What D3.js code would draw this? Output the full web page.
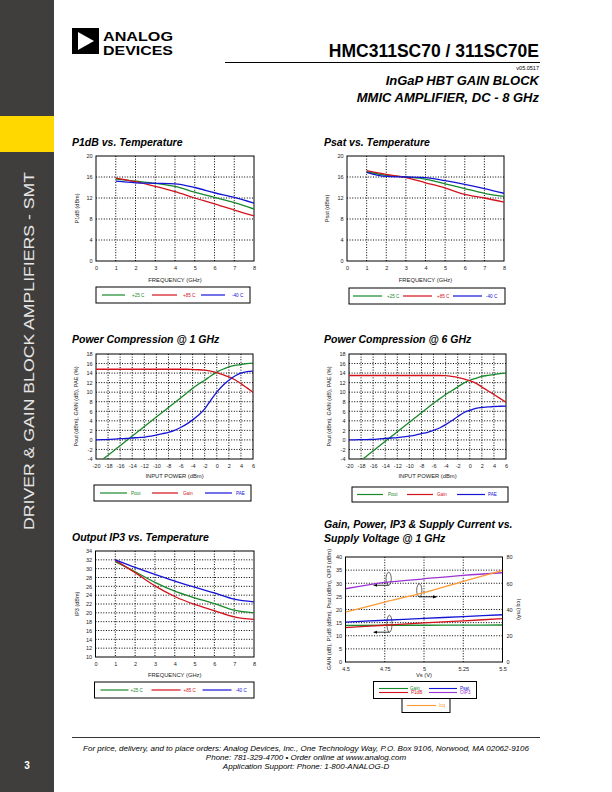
<!DOCTYPE html>
<html>
<head>
<meta charset="utf-8">
<script src="https://cdn.jsdelivr.net/npm/d3@7"></script>
<style>
  body { margin: 0; background: #fff; }
  svg { display: block; font-family: "Liberation Sans", Arial, sans-serif; }
</style>
</head>
<body>
<div id="page"></div>
<script>
// ---- data ----
var freqGHz = [1, 2, 3, 4, 5, 6, 7, 8];
var p1dB_25 = [15.6, 15.2, 14.8, 14.2, 13.1, 12.1, 11.1, 9.9];
var p1dB_85 = [15.8, 15.1, 14.2, 13.2, 12.0, 10.9, 9.7, 8.6];
var p1dB_m40 = [15.2, 14.9, 14.8, 14.7, 14.0, 13.0, 12.1, 11.0];

var psat_25 = [17.0, 16.3, 16.0, 15.6, 14.7, 13.8, 12.9, 12.3];
var psat_85 = [17.2, 16.5, 15.9, 14.9, 13.9, 12.7, 12.0, 11.2];
var psat_m40 = [16.9, 16.1, 16.0, 15.9, 15.3, 14.6, 13.8, 12.9];

var oip3_25 = [31.6, 29.3, 26.9, 24.9, 23.4, 22.1, 20.6, 20.0];
var oip3_85 = [31.9, 29.1, 26.1, 23.7, 21.9, 20.5, 19.1, 18.5];
var oip3_m40 = [32.0, 30.3, 28.7, 27.2, 25.8, 24.5, 23.1, 22.5];

var pinDBm = [-20, -19, -18, -17, -16, -15, -14, -13, -12, -11, -10, -9, -8, -7, -6, -5, -4, -3, -2, -1, 0, 1, 2, 3, 4, 5, 6];
var pout1G = [-5.2, -4.2, -3.2, -2.2, -1.2, -0.2, 0.8, 1.8, 2.8, 3.8, 4.8, 5.8, 6.8, 7.8, 8.8, 9.8, 10.8, 11.7, 12.5, 13.4, 14.2, 14.8, 15.3, 15.6, 15.8, 16.0, 16.1];
var gain1G = [14.8, 14.8, 14.8, 14.8, 14.8, 14.8, 14.8, 14.8, 14.8, 14.8, 14.8, 14.8, 14.8, 14.8, 14.8, 14.8, 14.75, 14.7, 14.6, 14.4, 14.1, 13.7, 13.2, 12.6, 11.8, 10.9, 10.0];
var pae1G = [0, 0.05, 0.1, 0.15, 0.25, 0.3, 0.4, 0.5, 0.6, 0.8, 1.0, 1.3, 1.6, 2.0, 2.6, 3.3, 4.2, 5.2, 6.5, 8.3, 10.0, 11.4, 12.5, 13.4, 14.0, 14.3, 14.4];

var pout6G = [-6.3, -5.3, -4.3, -3.3, -2.3, -1.3, -0.3, 0.7, 1.7, 2.7, 3.7, 4.7, 5.7, 6.7, 7.7, 8.6, 9.5, 10.3, 11.1, 11.9, 12.5, 12.9, 13.3, 13.5, 13.7, 13.9, 14.0];
var gain6G = [13.5, 13.5, 13.5, 13.5, 13.5, 13.5, 13.5, 13.5, 13.5, 13.5, 13.5, 13.5, 13.5, 13.5, 13.5, 13.5, 13.45, 13.3, 13.1, 12.8, 12.4, 11.9, 11.1, 10.3, 9.5, 8.7, 7.9];
var pae6G = [0, 0.02, 0.05, 0.08, 0.1, 0.2, 0.3, 0.4, 0.5, 0.65, 0.8, 1.0, 1.3, 1.6, 2.0, 2.5, 3.2, 4.0, 4.9, 5.7, 6.2, 6.6, 6.8, 6.9, 7.0, 7.05, 7.1];

var vsV = [4.5, 4.75, 5, 5.25, 5.5];
var gainVs = [13.9, 14.0, 14.0, 14.05, 14.1];
var p1dBVs = [13.1, 14.0, 14.9, 15.7, 16.5];
var psatVs = [15.2, 15.9, 16.6, 17.3, 18.0];
var oip3Vs = [27.9, 30.3, 31.7, 33.0, 34.0];
var icqVs = [38.1, 45.7, 52.8, 61.5, 69.8];

var tempLabels = ["+25 C", "+85 C", "-40 C"];
var pcLabels = ["Pout", "Gain", "PAE"];

var GREEN = "#17892a", RED = "#d3121c", BLUE = "#1414d6", PURPLE = "#9b32d2", ORANGE = "#ff9a33";

var svg = d3.select("#page").append("svg")
  .attr("width", 612).attr("height", 792);

var defs = svg.append("defs");
defs.append("marker")
  .attr("id", "arrow").attr("viewBox", "0 0 10 10")
  .attr("refX", 9).attr("refY", 5)
  .attr("markerWidth", 5).attr("markerHeight", 5)
  .attr("orient", "auto")
  .append("path").attr("d", "M0,1 L10,5 L0,9 Z").attr("fill", "#000");

// ---- page furniture ----
svg.append("rect").attr("x", 0).attr("y", 0).attr("width", 54).attr("height", 792).attr("fill", "#403e3c");
svg.append("rect").attr("x", 0).attr("y", 116).attr("width", 54).attr("height", 36).attr("fill", "#ffd800");
svg.append("text")
  .attr("transform", "translate(34,351) rotate(-90)")
  .attr("text-anchor", "middle")
  .attr("font-size", 15.5)
  .attr("textLength", 358).attr("lengthAdjust", "spacingAndGlyphs")
  .attr("fill", "#e6e6e6")
  .text("DRIVER & GAIN BLOCK AMPLIFIERS - SMT");
svg.append("text").attr("x", 27).attr("y", 769).attr("text-anchor", "middle")
  .attr("font-size", 10).attr("font-weight", "bold").attr("fill", "#fff").text("3");

// logo
svg.append("rect").attr("x", 72).attr("y", 28).attr("width", 27).attr("height", 26).attr("fill", "#000");
svg.append("path").attr("d", "M78,32 L94,41 L78,50 Z").attr("fill", "#fff");
svg.append("text").attr("x", 103).attr("y", 40.5).attr("font-size", 13).attr("font-weight", "bold")
  .attr("textLength", 70).attr("lengthAdjust", "spacingAndGlyphs").text("ANALOG");
svg.append("text").attr("x", 103).attr("y", 55).attr("font-size", 13).attr("font-weight", "bold")
  .attr("textLength", 70).attr("lengthAdjust", "spacingAndGlyphs").text("DEVICES");

svg.append("text").attr("x", 539).attr("y", 57).attr("text-anchor", "end")
  .attr("font-size", 17.5).attr("font-weight", "bold").text("HMC311SC70 / 311SC70E");
svg.append("line").attr("x1", 225).attr("x2", 540).attr("y1", 62.5).attr("y2", 62.5)
  .attr("stroke", "#000").attr("stroke-width", 1);
svg.append("text").attr("x", 539).attr("y", 69.5).attr("text-anchor", "end")
  .attr("font-size", 5.5).text("v05.0517");
svg.append("text").attr("x", 539).attr("y", 85).attr("text-anchor", "end")
  .attr("font-size", 13).attr("font-weight", "bold").attr("font-style", "italic").text("InGaP HBT GAIN BLOCK");
svg.append("text").attr("x", 539).attr("y", 102).attr("text-anchor", "end")
  .attr("font-size", 13).attr("font-weight", "bold").attr("font-style", "italic").text("MMIC AMPLIFIER, DC - 8 GHz");

// footer
svg.append("line").attr("x1", 72).attr("x2", 540).attr("y1", 737.5).attr("y2", 737.5)
  .attr("stroke", "#000").attr("stroke-width", 0.8);
var footer = [
  "For price, delivery, and to place orders: Analog Devices, Inc., One Technology Way, P.O. Box 9106, Norwood, MA 02062-9106",
  "Phone: 781-329-4700 \u2022 Order online at www.analog.com",
  "Application Support: Phone: 1-800-ANALOG-D"
];
svg.selectAll("text.foot").data(footer).join("text")
  .attr("class", "foot")
  .attr("x", 306).attr("y", function (d, i) { return 751 + i * 9; })
  .attr("text-anchor", "middle").attr("font-size", 8).attr("font-style", "italic")
  .text(function (d) { return d; });

// ---- generic chart ----
var clipId = 0;
function chart(o) {
  var g = svg.append("g").attr("transform", "translate(" + o.left + "," + o.top + ")");
  var x = d3.scaleLinear().domain(o.xDomain).range([0, o.width]);
  var y = d3.scaleLinear().domain(o.yDomain).range([o.height, 0]);

  // title
  o.title.forEach(function (t, i) {
    svg.append("text").attr("x", o.titleX).attr("y", o.titleY + i * 14)
      .attr("font-size", 10.5).attr("font-weight", "bold").attr("font-style", "italic").text(t);
  });

  // grid
  g.selectAll("line.vg").data(o.xGrid).join("line").attr("class", "vg")
    .attr("x1", function (d) { return x(d); }).attr("x2", function (d) { return x(d); })
    .attr("y1", 0).attr("y2", o.height)
    .attr("stroke", "#000").attr("stroke-width", 1).attr("stroke-dasharray", "1,1.6");
  g.selectAll("line.hg").data(o.yGrid).join("line").attr("class", "hg")
    .attr("x1", 0).attr("x2", o.width)
    .attr("y1", function (d) { return y(d); }).attr("y2", function (d) { return y(d); })
    .attr("stroke", "#000").attr("stroke-width", 1).attr("stroke-dasharray", "1,1.6");

  // axes (labels only)
  var fmt = function (d) { return String(d); };
  var ax = g.append("g").attr("transform", "translate(0," + o.height + ")")
    .call(d3.axisBottom(x).tickValues(o.xTicks).tickSize(0).tickPadding(o.xPad || 5).tickFormat(fmt));
  var ay = g.append("g")
    .call(d3.axisLeft(y).tickValues(o.yTicks).tickSize(0).tickPadding(3.5).tickFormat(fmt));
  [ax, ay].forEach(function (a) {
    a.select(".domain").remove();
    a.selectAll("text").attr("font-size", 5.5).attr("font-family", "Liberation Sans, Arial, sans-serif").attr("fill", "#222");
  });

  // border
  g.append("rect").attr("width", o.width).attr("height", o.height)
    .attr("fill", "none").attr("stroke", "#000").attr("stroke-width", 1);

  // axis titles
  g.append("text").attr("x", o.width / 2).attr("y", o.height + o.xLabelDy)
    .attr("text-anchor", "middle").attr("font-size", 5.8).attr("fill", "#222").text(o.xLabel);
  g.append("text").attr("transform", "translate(" + o.yLabelDx + "," + (o.height / 2) + ") rotate(-90)")
    .attr("text-anchor", "middle").attr("font-size", 5.5).attr("fill", "#222").text(o.yLabel);

  // series
  clipId++;
  defs.append("clipPath").attr("id", "clip" + clipId)
    .append("rect").attr("x", o.left).attr("y", o.top).attr("width", o.width).attr("height", o.height);
  var lines = svg.append("g").attr("clip-path", "url(#clip" + clipId + ")")
    .append("g").attr("transform", "translate(" + o.left + "," + o.top + ")");
  o.series.forEach(function (s) {
    var ys = s.scale || y;
    var line = d3.line()
      .x(function (d) { return x(d[0]); })
      .y(function (d) { return ys(d[1]); })
      .curve(d3.curveMonotoneX);
    lines.append("path").datum(d3.zip(s.x, s.y))
      .attr("d", line).attr("fill", "none")
      .attr("stroke", s.color).attr("stroke-width", 1.3);
  });

  // legend
  if (o.legend) {
    var L = o.legend;
    svg.append("rect").attr("x", L.x).attr("y", L.y).attr("width", L.w).attr("height", L.h)
      .attr("fill", "#fff").attr("stroke", "#000").attr("stroke-width", 1);
    L.items.forEach(function (it) {
      svg.append("line").attr("x1", it.x1).attr("x2", it.x2).attr("y1", it.y).attr("y2", it.y)
        .attr("stroke", it.color).attr("stroke-width", 1.2);
      svg.append("text").attr("x", it.tx).attr("y", it.y + 1.6)
        .attr("font-size", 4.6).attr("fill", it.color).text(it.label);
    });
  }
  return { g: g, x: x, y: y };
}

function tempLegend(bx, by, bw, bh, offs) {
  var cols = [GREEN, RED, BLUE];
  return {
    x: bx, y: by, w: bw, h: bh,
    items: tempLabels.map(function (l, i) {
      return { label: l, color: cols[i], x1: bx + offs[i][0], x2: bx + offs[i][1], tx: bx + offs[i][2], y: by + bh / 2 };
    })
  };
}
function pcLegend(bx, by, bw, bh, offs) {
  var cols = [GREEN, RED, BLUE];
  return {
    x: bx, y: by, w: bw, h: bh,
    items: pcLabels.map(function (l, i) {
      return { label: l, color: cols[i], x1: bx + offs[i][0], x2: bx + offs[i][1], tx: bx + offs[i][2], y: by + bh / 2 };
    })
  };
}

var ghzTicks = [0, 1, 2, 3, 4, 5, 6, 7, 8];
var pinTicks = d3.range(-20, 7, 2);
var pcYTicks = d3.range(-4, 19, 2);

// P1dB vs Temperature
chart({
  left: 96, top: 156, width: 158, height: 105,
  xDomain: [0, 8], yDomain: [0, 20],
  xTicks: ghzTicks, yTicks: [0, 4, 8, 12, 16, 20],
  xGrid: [1, 2, 3, 4, 5, 6, 7], yGrid: [4, 8, 12, 16],
  title: ["P1dB vs. Temperature"], titleX: 72, titleY: 146,
  xLabel: "FREQUENCY (GHz)", xLabelDy: 21, yLabel: "P1dB (dBm)", yLabelDx: -17,
  series: [
    { x: freqGHz, y: p1dB_25, color: GREEN },
    { x: freqGHz, y: p1dB_85, color: RED },
    { x: freqGHz, y: p1dB_m40, color: BLUE }
  ],
  legend: tempLegend(96, 287, 154, 16, [[6, 29, 36], [56, 81, 87], [105, 129, 136]])
});

// Psat vs Temperature
chart({
  left: 347, top: 156, width: 157, height: 105,
  xDomain: [0, 8], yDomain: [0, 20],
  xTicks: ghzTicks, yTicks: [0, 4, 8, 12, 16, 20],
  xGrid: [1, 2, 3, 4, 5, 6, 7], yGrid: [4, 8, 12, 16],
  title: ["Psat vs. Temperature"], titleX: 324, titleY: 146,
  xLabel: "FREQUENCY (GHz)", xLabelDy: 21, yLabel: "Psat (dBm)", yLabelDx: -18,
  series: [
    { x: freqGHz, y: psat_25, color: GREEN },
    { x: freqGHz, y: psat_85, color: RED },
    { x: freqGHz, y: psat_m40, color: BLUE }
  ],
  legend: tempLegend(349, 288, 156, 16, [[4, 33, 38], [54, 83, 88], [104, 133, 137]])
});

// Power Compression @ 1 GHz
chart({
  left: 96, top: 354, width: 157, height: 105,
  xDomain: [-20, 6], yDomain: [-4, 18],
  xTicks: pinTicks, yTicks: pcYTicks,
  xGrid: d3.range(-18, 6, 2), yGrid: d3.range(-2, 18, 2),
  title: ["Power Compression @ 1 GHz"], titleX: 72, titleY: 343,
  xLabel: "INPUT POWER (dBm)", xLabelDy: 19, yLabel: "Pout (dBm), GAIN (dB), PAE (%)", yLabelDx: -18,
  series: [
    { x: pinDBm, y: pout1G, color: GREEN },
    { x: pinDBm, y: gain1G, color: RED },
    { x: pinDBm, y: pae1G, color: BLUE }
  ],
  legend: pcLegend(94, 485, 157, 16, [[6, 33, 37], [58, 84, 89], [111, 138, 142]])
});

// Power Compression @ 6 GHz
chart({
  left: 349, top: 354, width: 157, height: 105,
  xDomain: [-20, 6], yDomain: [-4, 18],
  xTicks: pinTicks, yTicks: pcYTicks,
  xGrid: d3.range(-18, 6, 2), yGrid: d3.range(-2, 18, 2),
  title: ["Power Compression @ 6 GHz"], titleX: 324, titleY: 343,
  xLabel: "INPUT POWER (dBm)", xLabelDy: 19, yLabel: "Pout (dBm), GAIN (dB), PAE (%)", yLabelDx: -18,
  series: [
    { x: pinDBm, y: pout6G, color: GREEN },
    { x: pinDBm, y: gain6G, color: RED },
    { x: pinDBm, y: pae6G, color: BLUE }
  ],
  legend: pcLegend(352, 487, 156, 15, [[5, 31, 36], [55, 81, 85], [105, 133, 136]])
});

// Output IP3 vs Temperature
chart({
  left: 95.5, top: 551, width: 158.5, height: 106,
  xDomain: [0, 8], yDomain: [10, 34],
  xTicks: ghzTicks, yTicks: d3.range(10, 35, 2),
  xGrid: [1, 2, 3, 4, 5, 6, 7], yGrid: d3.range(12, 34, 2),
  title: ["Output IP3 vs. Temperature"], titleX: 72, titleY: 541,
  xLabel: "FREQUENCY (GHz)", xLabelDy: 20, yLabel: "IP3 (dBm)", yLabelDx: -17,
  series: [
    { x: freqGHz, y: oip3_25, color: GREEN },
    { x: freqGHz, y: oip3_85, color: RED },
    { x: freqGHz, y: oip3_m40, color: BLUE }
  ],
  legend: tempLegend(94.5, 682, 159.5, 16, [[6, 34, 36], [57, 86, 89], [108, 137, 141]])
});

// Gain, Power, IP3 & Supply Current vs Supply Voltage
var yIcq = d3.scaleLinear().domain([0, 80]).range([105, 0]);
var gpv = chart({
  left: 345.5, top: 557, width: 157, height: 105,
  xDomain: [4.5, 5.5], yDomain: [0, 40],
  xTicks: vsV, yTicks: d3.range(0, 41, 5), xPad: 5,
  xGrid: [4.75, 5, 5.25], yGrid: d3.range(5, 40, 5),
  title: ["Gain, Power, IP3 & Supply Current vs.", "Supply Voltage @ 1 GHz"], titleX: 324, titleY: 528,
  xLabel: "Vs (V)", xLabelDy: 15, yLabel: "GAIN (dB), P1dB (dBm), Psat (dBm), OIP3 (dBm)", yLabelDx: -15,
  series: [
    { x: vsV, y: gainVs, color: GREEN },
    { x: vsV, y: p1dBVs, color: RED },
    { x: vsV, y: psatVs, color: BLUE },
    { x: vsV, y: oip3Vs, color: PURPLE },
    { x: vsV, y: icqVs, color: ORANGE, scale: yIcq }
  ]
});
var ayR = gpv.g.append("g").attr("transform", "translate(157,0)")
  .call(d3.axisRight(yIcq).tickValues([0, 20, 40, 60, 80]).tickSize(0).tickPadding(4).tickFormat(function (d) { return String(d); }));
ayR.select(".domain").remove();
ayR.selectAll("text").attr("font-size", 5.5).attr("fill", "#222");
gpv.g.append("text").attr("transform", "translate(171,52.5) rotate(90)")
  .attr("text-anchor", "middle").attr("font-size", 5.5).attr("fill", "#222").text("Icq (mA)");

// annotation ellipses + arrows
function note(cx, cy, ry, x2) {
  var X = gpv.x, Y = gpv.y;
  gpv.g.append("ellipse").attr("cx", X(cx)).attr("cy", Y(cy)).attr("rx", 2.6).attr("ry", ry)
    .attr("fill", "none").attr("stroke", "#000").attr("stroke-width", 0.6);
  gpv.g.append("line").attr("x1", X(cx)).attr("y1", Y(cy) + ry).attr("x2", X(x2)).attr("y2", Y(cy) + ry)
    .attr("stroke", "#000").attr("stroke-width", 0.8).attr("marker-end", "url(#arrow)");
}
note(4.775, 31.7, 6.5, 4.68);
note(4.97, 27.3, 6.5, 5.08);
note(4.78, 14.6, 8.5, 4.68);

// legend for voltage chart
var gl = [
  { label: "Gain", color: GREEN, x1: 379, x2: 408, tx: 410, y: 688.5 },
  { label: "P1dB", color: RED, x1: 379, x2: 408, tx: 411, y: 692.5 },
  { label: "Psat", color: BLUE, x1: 429, x2: 457, tx: 460, y: 688.5 },
  { label: "OIP3", color: PURPLE, x1: 429, x2: 457, tx: 460, y: 692.5 }
];
svg.append("rect").attr("x", 373.5).attr("y", 681.5).attr("width", 103).attr("height", 17)
  .attr("fill", "#fff").attr("stroke", "#000").attr("stroke-width", 1);
svg.append("rect").attr("x", 402).attr("y", 698.5).attr("width", 48).attr("height", 14)
  .attr("fill", "#fff").attr("stroke", "#000").attr("stroke-width", 1);
gl.concat([{ label: "Icq", color: ORANGE, x1: 407, x2: 436, tx: 439, y: 705.5 }]).forEach(function (it) {
  svg.append("line").attr("x1", it.x1).attr("x2", it.x2).attr("y1", it.y).attr("y2", it.y)
    .attr("stroke", it.color).attr("stroke-width", 1.1);
  svg.append("text").attr("x", it.tx).attr("y", it.y + 1.6).attr("font-size", 4.6)
    .attr("fill", it.color).text(it.label);
});
</script>
</body>
</html>
